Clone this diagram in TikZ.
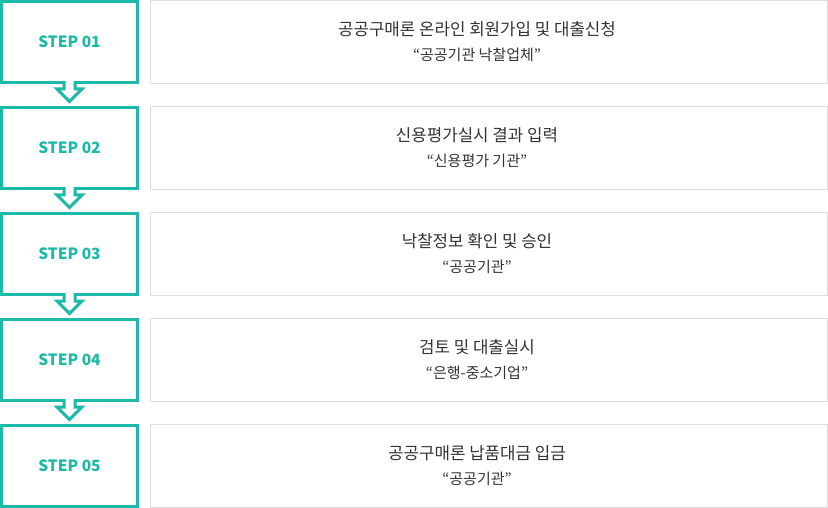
\documentclass[tikz,border=0pt]{standalone}
\usepackage{fontspec}
\setmainfont{Noto Sans CJK KR}
\usepackage{tikz}

\definecolor{stepTeal}{RGB}{29,185,168}
\definecolor{boxGray}{RGB}{221,221,221}
\definecolor{textDark}{RGB}{51,51,51}

\begin{document}
\begin{tikzpicture}[x=1pt,y=1pt,yscale=-1,xscale=1,
  stepbox/.style={draw=stepTeal,line width=3pt,fill=white,minimum width=136pt,minimum height=81pt,inner sep=0pt,outer sep=0pt,text=stepTeal,font=\bfseries\fontsize{15.5}{18}\selectfont},
  infobox/.style={draw=boxGray,line width=1pt,minimum width=677pt,minimum height=83pt,inner sep=0pt,outer sep=0pt},
  titletext/.style={inner sep=0pt,text=textDark,text height=0.8em,text depth=0.1em,font=\fontsize{16.8}{20}\selectfont},
  subtext/.style={inner sep=0pt,text=textDark,text height=0.8em,text depth=0.1em,font=\fontsize{15}{18}\selectfont},
  steparrow/.style={draw=stepTeal,line width=3pt,fill=white,line join=miter}]
%set diagram: 828 x 508
\useasboundingbox (0,0) rectangle (828,508);

%Shape: Step boxes
\node [stepbox] (s1) at (69.5,42) {STEP 01};
\node [stepbox] (s2) at (69.5,148) {STEP 02};
\node [stepbox] (s3) at (69.5,254) {STEP 03};
\node [stepbox] (s4) at (69.5,360) {STEP 04};
\node [stepbox] (s5) at (69.5,466) {STEP 05};

%Shape: Info boxes
\node [infobox] (r1) at (489,42) {};
\node [infobox] (r2) at (489,148) {};
\node [infobox] (r3) at (489,254) {};
\node [infobox] (r4) at (489,360) {};
\node [infobox] (r5) at (489,466) {};

% Text Node
\node [titletext] (t1) at ([xshift=-12pt,yshift=-10pt]r1.center) {공공구매론 온라인 회원가입 및 대출신청};
\node [subtext] (u1) at ([xshift=-12pt,yshift=15pt]r1.center) {“공공기관 낙찰업체”};
% Text Node
\node [titletext] (t2) at ([xshift=-12pt,yshift=-10pt]r2.center) {신용평가실시 결과 입력};
\node [subtext] (u2) at ([xshift=-12pt,yshift=15pt]r2.center) {“신용평가 기관”};
% Text Node
\node [titletext] (t3) at ([xshift=-12pt,yshift=-10pt]r3.center) {낙찰정보 확인 및 승인};
\node [subtext] (u3) at ([xshift=-12pt,yshift=15pt]r3.center) {“공공기관”};
% Text Node
\node [titletext] (t4) at ([xshift=-12pt,yshift=-10pt]r4.center) {검토 및 대출실시};
\node [subtext] (u4) at ([xshift=-12pt,yshift=15pt]r4.center) {“은행-중소기업”};
% Text Node
\node [titletext] (t5) at ([xshift=-12pt,yshift=-10pt]r5.center) {공공구매론 납품대금 입금};
\node [subtext] (u5) at ([xshift=-12pt,yshift=15pt]r5.center) {“공공기관”};

%Shape: Down arrows
\draw [steparrow] (s1.south) ++(-5.5,-1.5) -- ++(0,8) -- ++(-7,0) -- ++(12.5,12.5) -- ++(12.5,-12.5) -- ++(-7,0) -- ++(0,-8);
\draw [steparrow] (s2.south) ++(-5.5,-1.5) -- ++(0,8) -- ++(-7,0) -- ++(12.5,12.5) -- ++(12.5,-12.5) -- ++(-7,0) -- ++(0,-8);
\draw [steparrow] (s3.south) ++(-5.5,-1.5) -- ++(0,8) -- ++(-7,0) -- ++(12.5,12.5) -- ++(12.5,-12.5) -- ++(-7,0) -- ++(0,-8);
\draw [steparrow] (s4.south) ++(-5.5,-1.5) -- ++(0,8) -- ++(-7,0) -- ++(12.5,12.5) -- ++(12.5,-12.5) -- ++(-7,0) -- ++(0,-8);

\end{tikzpicture}
\end{document}
